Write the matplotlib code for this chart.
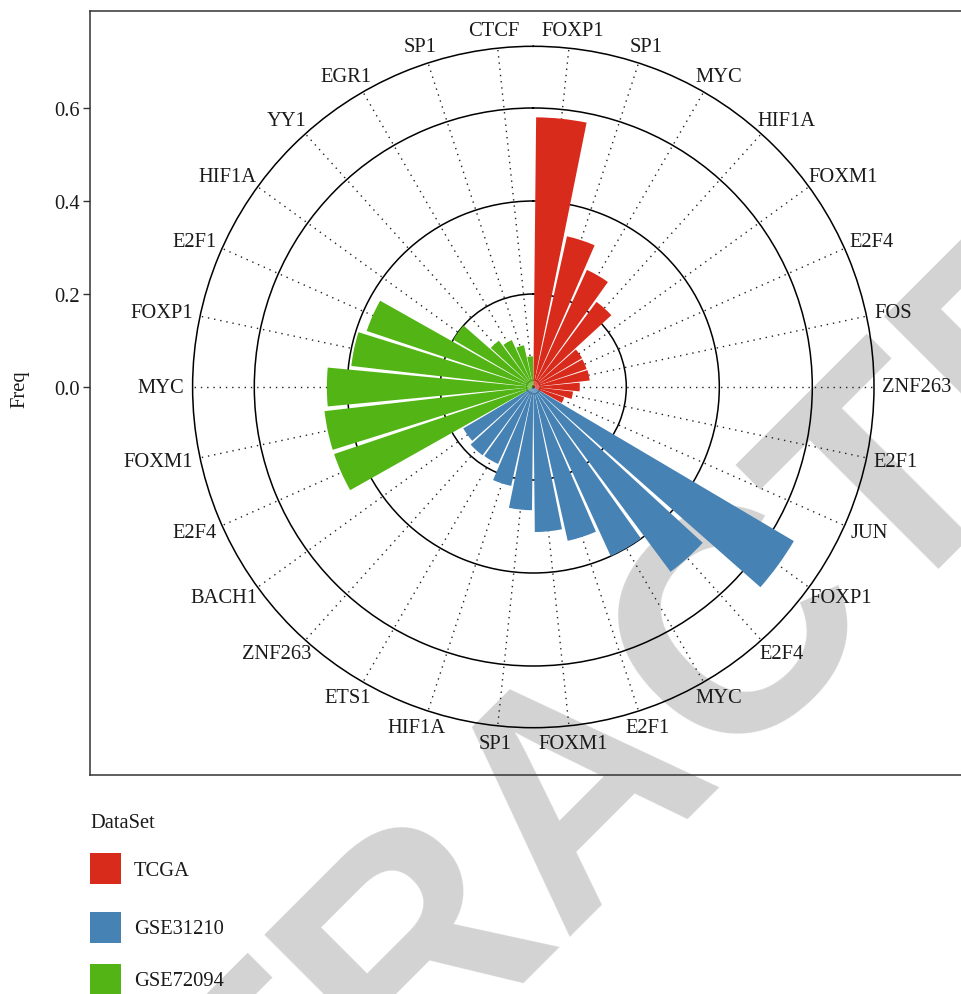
import numpy as np
import matplotlib
matplotlib.use("Agg")
import matplotlib.pyplot as plt
from matplotlib.patches import Rectangle

# ---------------- data ----------------
datasets = ["TCGA", "GSE31210", "GSE72094"]
tf_tcga = ["FOXP1", "SP1", "MYC", "HIF1A", "FOXM1", "E2F4", "FOS", "ZNF263", "E2F1", "JUN"]
freq_tcga = [0.58, 0.332, 0.277, 0.228, 0.122, 0.121, 0.122, 0.100, 0.086, 0.070]
tf_gse31210 = ["FOXP1", "E2F4", "MYC", "E2F1", "FOXM1", "SP1", "HIF1A", "ETS1", "ZNF263", "BACH1"]
freq_gse31210 = [0.651, 0.495, 0.400, 0.339, 0.312, 0.265, 0.218, 0.182, 0.183, 0.175]
tf_gse72094 = ["E2F4", "FOXM1", "MYC", "FOXP1", "E2F1", "HIF1A", "YY1", "EGR1", "SP1", "CTCF"]
freq_gse72094 = [0.452, 0.452, 0.444, 0.394, 0.378, 0.200, 0.124, 0.111, 0.092, 0.066]
y_ticks = [0.0, 0.2, 0.4, 0.6]
y_ticklabels = ["0.0", "0.2", "0.4", "0.6"]
colors = {"TCGA": "#D92B1C", "GSE31210": "#4682B4", "GSE72094": "#52B415"}

labels = tf_tcga + tf_gse31210 + tf_gse72094
values = freq_tcga + freq_gse31210 + freq_gse72094
groups = ["TCGA"] * len(tf_tcga) + ["GSE31210"] * len(tf_gse31210) + ["GSE72094"] * len(tf_gse72094)

plt.rcParams["font.family"] = ["Liberation Serif", "DejaVu Serif"]
FS = 14.8

W, H = 961, 995
fig = plt.figure(figsize=(W / 100, H / 100), dpi=100)

# watermark (behind everything)
fig.text(0.6657, 0.1494, "RETRACTED", rotation=45, rotation_mode="anchor",
         ha="center", va="baseline", fontsize=227, color="#D3D3D3",
         family=["Liberation Sans", "DejaVu Sans"], weight="bold", zorder=-10)

# ---------------- panel frame + radial axis ----------------
cx, cy, R = 533.3, 388.0, 340.7
ppu = 465.0  # pixels per unit of Freq
pl, pt, pb, pr = 90, 12, 776, 976
ax_bg = fig.add_axes([pl / W, 1 - pb / H, (pr - pl) / W, (pb - pt) / H])
ax_bg.set_facecolor("none")
ax_bg.set_xlim(0, 1)
ax_bg.set_ylim((cy - pb) / ppu, (cy - pt) / ppu)
ax_bg.set_xticks([])
ax_bg.set_yticks(y_ticks)
ax_bg.set_yticklabels(y_ticklabels, fontsize=FS, color="#1a1a1a")
ax_bg.tick_params(axis="y", length=5, width=1.0, color="#333333", pad=2)
for s in ["left", "top", "bottom"]:
    ax_bg.spines[s].set_color("#333333")
    ax_bg.spines[s].set_linewidth(1.1)
ax_bg.spines["right"].set_visible(False)
fig.text(20 / W, 1 - 389 / H, "Freq", rotation=90, ha="center", va="center",
         fontsize=FS, color="#1a1a1a")

# ---------------- polar bars ----------------
ax = fig.add_axes([(cx - R) / W, 1 - (cy + R) / H, 2 * R / W, 2 * R / H], projection="polar")
ax.set_facecolor("none")
ax.set_theta_zero_location("N")
ax.set_theta_direction(-1)
n = len(labels)
step = 2 * np.pi / n
theta = np.arange(n) * step + step / 2
rmax = R / ppu
ax.set_ylim(0, rmax)
ax.set_axisbelow(True)
ax.bar(theta, values, width=0.9 * step, color=[colors[g] for g in groups],
       edgecolor="none", linewidth=0, zorder=2)
ax.set_yticks([t for t in y_ticks if t > 0])
ax.set_yticklabels([])
ax.set_xticks(theta)
ax.set_xticklabels([])
ax.tick_params(length=0)
ax.yaxis.grid(True, color="black", linewidth=1.1, linestyle="-")
ax.xaxis.grid(True, color="#222222", linewidth=1.0, linestyle=(0, (1, 3.5)))
ax.spines["polar"].set_color("black")
ax.spines["polar"].set_linewidth(1.1)

anns = []
for th, lab in zip(theta, labels):
    a = ax.annotate(lab, xy=(th, rmax), xycoords="data", xytext=(0, 0),
                    textcoords="offset pixels", ha="center", va="center",
                    fontsize=FS, color="#1a1a1a", annotation_clip=False)
    anns.append((th, a))

fig.canvas.draw()
renderer = fig.canvas.get_renderer()
pad = 8.0
for th, a in anns:
    bb = a.get_window_extent(renderer)
    dx = np.sin(th) * (bb.width / 2 + pad)
    dy = np.cos(th) * (bb.height / 2 + pad)
    a.xyann = (dx, dy)

# ---------------- legend ----------------
ov = fig.add_axes([0, 0, 1, 1])
ov.set_xlim(0, W)
ov.set_ylim(H, 0)
ov.axis("off")
ov.text(90, 823, "DataSet", ha="left", va="center", fontsize=FS, color="#1a1a1a")
key_tops = [854, 913, 965]
for ds, kt in zip(datasets, key_tops):
    ov.add_patch(Rectangle((90, kt), 31, 31, facecolor=colors[ds], edgecolor="none"))
    ov.text(134, kt + 17, ds, ha="left", va="center", fontsize=FS, color="#1a1a1a")

fig.savefig("out.png", dpi=100)
